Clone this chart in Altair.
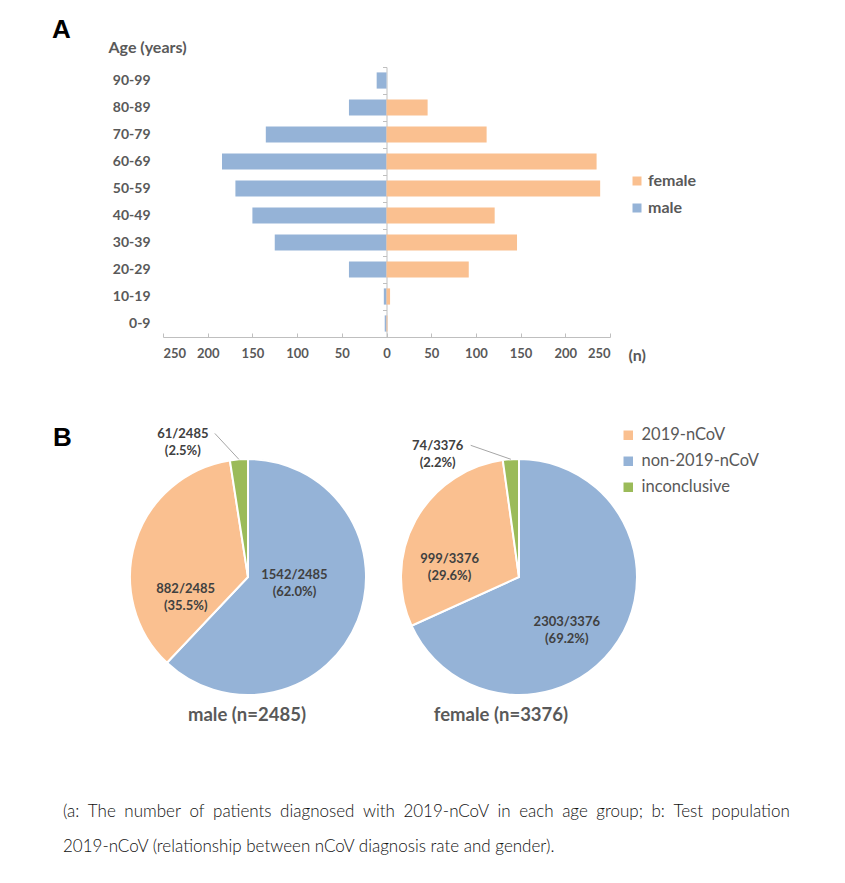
import math
import altair as alt
import pandas as pd

# ---------------- data ----------------
age_groups = ["0-9", "10-19", "20-29", "30-39", "40-49", "50-59", "60-69", "70-79", "80-89", "90-99"]
male_counts = [2, 3, 42, 125, 150, 169, 184, 135, 42, 11]
female_counts = [1, 4, 92, 146, 121, 239, 235, 112, 46, 0]
x_tick_values = [-250, -200, -150, -100, -50, 0, 50, 100, 150, 200, 250]
bar_genders = ["female", "male"]

pie_categories = ["non-2019-nCoV", "2019-nCoV", "inconclusive"]
legend_categories = ["2019-nCoV", "non-2019-nCoV", "inconclusive"]
male_results = [1542, 882, 61]
female_results = [2303, 999, 74]
male_pct = ["62.0%", "35.5%", "2.5%"]
female_pct = ["69.2%", "29.6%", "2.2%"]
male_title = "male (n=2485)"
female_title = "female (n=3376)"

caption_lines = [
    "(a: The number of patients diagnosed with 2019-nCoV in each age group; b: Test population",
    "2019-nCoV (relationship between nCoV diagnosis rate and gender).",
]

# ---------------- style ----------------
FONT = "Lato"
GRAY = "#595959"
DARK = "#404040"
AXIS_GRAY = "#BFBFBF"
ORANGE = "#FAC090"
BLUE = "#95B3D7"
GREEN = "#9BBB59"
BAR_W, BAR_H = 447, 270
PIE_R = 118
MALE_W, FEMALE_W, PIE_H = 170, 250, 250
JUSTIFY_SPACE = "\u2002"  # wider word gap to imitate the justified first caption line
# label anchor: radius along the slice mid-angle, then a pixel nudge (dx, dy)
male_label_style = {"non-2019-nCoV": (50, 0, -20), "2019-nCoV": (60, -5, 30), "inconclusive": (145, -54, 2)}
female_label_style = {"non-2019-nCoV": (64, -6, 10), "2019-nCoV": (69, -9, 15), "inconclusive": (135, -72, 4)}
leader_offset = {"male": (32, -1), "female": (33, -1)}

# ---------------- panel A ----------------
bar_df = pd.DataFrame({
    "age": age_groups * 2,
    "gender": ["male"] * len(age_groups) + ["female"] * len(age_groups),
    "n": [-v for v in male_counts] + female_counts,
})

y_scale = alt.Scale(paddingInner=0.4, paddingOuter=0.2)
x_scale = alt.Scale(domain=[-250, 250], nice=False)
step = BAR_H / len(age_groups)

bars = alt.Chart(bar_df).mark_bar().encode(
    y=alt.Y(
        "age:N",
        sort=age_groups[::-1],
        scale=y_scale,
        axis=alt.Axis(
            title="Age (years)", titleAngle=0, titleAlign="left", titleBaseline="middle",
            titleX=-55, titleY=-20, titleFont=FONT, titleFontSize=16, titleFontWeight="bold",
            titleColor=GRAY, labelFont=FONT, labelFontSize=14, labelFontWeight="bold",
            labelColor=GRAY, labelPadding=13, domain=False, ticks=False,
        ),
    ),
    x=alt.X(
        "n:Q",
        scale=x_scale,
        axis=alt.Axis(
            values=x_tick_values, labelExpr="abs(datum.value)", grid=False,
            domainColor=AXIS_GRAY, ticks=False,
            labelFont=FONT, labelFontSize=13, labelFontWeight="bold", labelColor=GRAY, labelPadding=10,
            title="(n)", titleAngle=0, titleAlign="left", titleBaseline="middle",
            titleX=465, titleY=18, titleFont=FONT, titleFontSize=16, titleFontWeight="bold", titleColor=GRAY,
        ),
    ),
    color=alt.Color(
        "gender:N",
        scale=alt.Scale(domain=bar_genders, range=[ORANGE, BLUE]),
        legend=alt.Legend(
            title=None, orient="none", legendX=466, legendY=106, symbolType="square",
            symbolSize=81, symbolStrokeWidth=0, labelFont=FONT, labelFontSize=16,
            labelFontWeight="bold", labelColor=GRAY, rowPadding=11, labelOffset=3,
        ),
    ),
)

# category axis drawn at n = 0 (vertical line with small ticks between age groups),
# plus upward-pointing tick marks on the value axis
center_axis = alt.Chart(bar_df).mark_point(opacity=0, size=0).encode(
    y=alt.Y(
        "age:N",
        sort=age_groups[::-1],
        scale=y_scale,
        axis=alt.Axis(
            orient="left", offset=-BAR_W / 2, labels=False, title=None, grid=False,
            domain=True, domainColor=AXIS_GRAY, ticks=True, tickColor=AXIS_GRAY, tickSize=4,
            bandPosition=0, tickOffset=-step * 0.2,
        ),
    ),
    x=alt.X(
        "n:Q",
        scale=x_scale,
        axis=alt.Axis(
            orient="top", offset=-BAR_H, values=x_tick_values, labels=False, title=None,
            grid=False, domain=False, ticks=True, tickColor=AXIS_GRAY, tickSize=4,
        ),
    ),
)

panel_a = alt.layer(bars, center_axis).resolve_axis(y="independent", x="independent").properties(
    width=BAR_W, height=BAR_H,
    title=alt.Title("A", anchor="start", frame="group", dx=-111, dy=4, offset=0,
                    font="Liberation Sans", fontSize=26, fontWeight="bold", color="black"),
)

# ---------------- panel B ----------------
def pie_frame(gender, counts, pcts, style, width):
    total = sum(counts)
    rows = []
    cum = 0
    for i, (cat, c, p) in enumerate(zip(pie_categories, counts, pcts)):
        mid = (cum + c / 2) / total * 2 * math.pi
        cum += c
        r, dx, dy = style[cat]
        lx = width / 2 + r * math.sin(mid) + dx
        ly = PIE_H / 2 - r * math.cos(mid) + dy
        ex = width / 2 + PIE_R * math.sin(mid)
        ey = PIE_H / 2 - PIE_R * math.cos(mid)
        ox, oy = leader_offset[gender]
        rows.append({
            "category": cat, "count": c, "idx": i,
            "label": f"{c}/{total}\n({p})",
            "lx": lx, "ly": ly,
            "x1": lx + ox, "y1": ly + oy, "x2": ex, "y2": ey,
        })
    return pd.DataFrame(rows)


def pie_chart(gender, counts, pcts, style, title, width, show_legend, title_dx):
    df = pie_frame(gender, counts, pcts, style, width)
    legend = None
    if show_legend:
        legend = alt.Legend(
            title=None, orient="none", legendX=226, legendY=-25, symbolType="square",
            symbolSize=90, symbolStrokeWidth=0, labelFont=FONT, labelFontSize=16.5,
            labelColor=GRAY, rowPadding=9, labelOffset=5,
        )
    arcs = alt.Chart(df).mark_arc(outerRadius=PIE_R, stroke="white", strokeWidth=2).encode(
        theta=alt.Theta("count:Q", stack=True),
        color=alt.Color("category:N", scale=alt.Scale(domain=legend_categories, range=[ORANGE, BLUE, GREEN]),
                        legend=legend),
        order=alt.Order("idx:Q"),
    )
    labels = alt.Chart(df).mark_text(
        font=FONT, fontSize=13, fontWeight="bold", color=DARK, lineBreak="\n", lineHeight=17,
        align="center", baseline="middle",
    ).encode(
        x=alt.X("lx:Q", scale=None), y=alt.Y("ly:Q", scale=None), text="label:N"
    )
    leader = alt.Chart(df).transform_filter(alt.datum.category == "inconclusive").mark_rule(
        color="#A6A6A6", strokeWidth=1
    ).encode(
        x=alt.X("x1:Q", scale=None), y=alt.Y("y1:Q", scale=None),
        x2="x2:Q", y2="y2:Q",
    )
    return alt.layer(arcs, leader, labels).properties(
        width=width, height=PIE_H,
        title=alt.Title(title, orient="bottom", font=FONT, fontSize=18.5, fontWeight="bold",
                        color=GRAY, offset=4, dx=title_dx),
    )


male_pie = pie_chart("male", male_results, male_pct, male_label_style, male_title, MALE_W, False, -1)
female_pie = pie_chart("female", female_results, female_pct, female_label_style, female_title, FEMALE_W, True, -18)

panel_b = alt.hconcat(male_pie, female_pie, spacing=24).resolve_legend(color="independent").properties(
    title=alt.Title("B", anchor="start", frame="group", dx=-110, dy=24, offset=0,
                    font="Liberation Sans", fontSize=26, fontWeight="bold", color="black"),
)

caption_display = [caption_lines[0].replace(" ", JUSTIFY_SPACE), caption_lines[1]]

chart = alt.vconcat(panel_a, panel_b, spacing=62).resolve_scale(color="independent").properties(
    padding={"left": 44, "top": 9, "right": 5, "bottom": 5},
    background="white",
    title=alt.Title(caption_display, orient="bottom", anchor="start", font=FONT, fontSize=17,
                    fontWeight=300, color="#111111", lineHeight=35, offset=79, dx=11),
).configure_view(stroke=None)

chart.save("out.html", embed_options={"renderer": "svg", "actions": False})
